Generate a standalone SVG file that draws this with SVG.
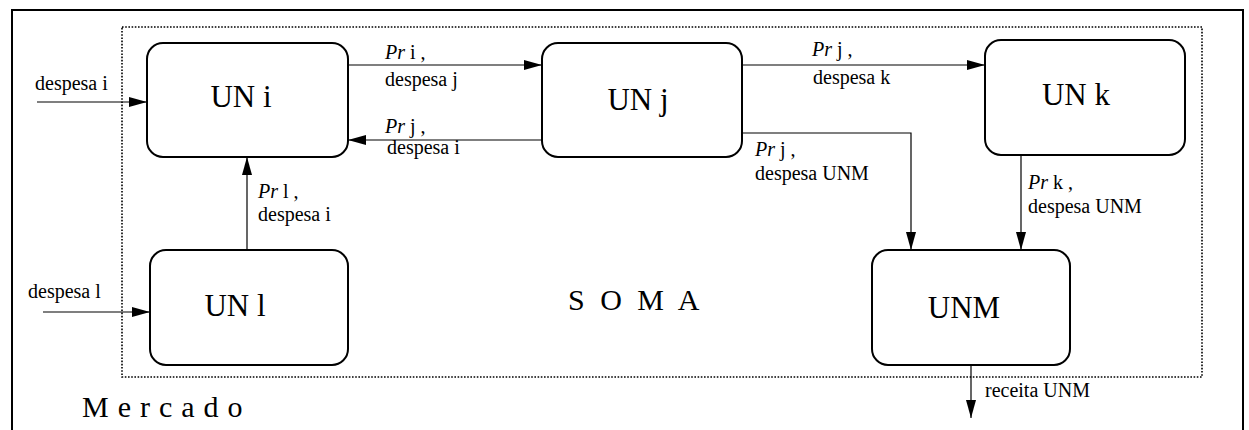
<svg xmlns="http://www.w3.org/2000/svg" width="1249" height="430" viewBox="0 0 1249 430">
  <style>
    .frame { fill: none; stroke: #000; stroke-width: 2; }
    .soma { fill: none; stroke: #000; stroke-width: 1.6; stroke-dasharray: 1.6 1.6; }
    .node { fill: #fff; stroke: #000; stroke-width: 2; }
    text { font-family: "Liberation Serif", "Times New Roman", serif; fill: #000; }
    .name { font-size: 31px; text-anchor: middle; }
    .lbl { font-size: 20px; }
    .it { font-style: italic; }
    .big { font-size: 30px; }
    .link { fill: none; stroke: #000; stroke-width: 1.2; marker-end: url(#arrow); }
  </style>
  <defs>
    <marker id="arrow" markerUnits="userSpaceOnUse" markerWidth="18" markerHeight="12" refX="18" refY="6" orient="auto">
      <path d="M0,1 L18,6 L0,11 Z" fill="#000"/>
    </marker>
  </defs>

  <rect width="1249" height="430" fill="#fff"/>

  <!-- market frame (open at the bottom edge) and the SOMA boundary -->
  <g id="mercado">
    <rect class="frame" x="12" y="10" width="1231" height="440"/>
    <text class="big" x="82" y="417" letter-spacing="9">Mercado</text>
  </g>
  <g id="soma">
    <rect class="soma" x="122" y="27" width="1080" height="350"/>
    <text class="big" x="568" y="310" letter-spacing="4">S O M A</text>
  </g>

  <!-- business units -->
  <g id="un-i">
    <rect class="node" x="147" y="43" width="201" height="114" rx="16"/>
    <text class="name" x="241" y="107">UN i</text>
  </g>
  <g id="un-j">
    <rect class="node" x="542" y="43" width="200" height="114" rx="16"/>
    <text class="name" x="638" y="110">UN j</text>
  </g>
  <g id="un-k">
    <rect class="node" x="985" y="40" width="200" height="115" rx="16"/>
    <text class="name" x="1076" y="105">UN k</text>
  </g>
  <g id="un-l">
    <rect class="node" x="150" y="250" width="198" height="115" rx="16"/>
    <text class="name" x="235" y="316">UN l</text>
  </g>
  <g id="unm">
    <rect class="node" x="872" y="250" width="198" height="115" rx="16"/>
    <text class="name" x="964" y="318">UNM</text>
  </g>

  <!-- flows between units -->
  <g id="connectors">
    <path class="link" d="M37,102 H147"/>
    <path class="link" d="M348,65 H542"/>
    <path class="link" d="M542,140 H348"/>
    <path class="link" d="M742,65 H985"/>
    <path class="link" d="M742,133 H911 V250"/>
    <path class="link" d="M1021,155 V250"/>
    <path class="link" d="M247,250 V157"/>
    <path class="link" d="M43,312 H150"/>
    <path class="link" d="M971,365 V418"/>

    <text class="lbl" x="35" y="90">despesa i</text>
    <text class="lbl" x="385" y="59"><tspan class="it">Pr</tspan> i ,</text>
    <text class="lbl" x="385" y="86">despesa j</text>
    <text class="lbl" x="385" y="133"><tspan class="it">Pr</tspan> j ,</text>
    <text class="lbl" x="387" y="154">despesa i</text>
    <text class="lbl" x="812" y="56"><tspan class="it">Pr</tspan> j ,</text>
    <text class="lbl" x="813" y="84">despesa k</text>
    <text class="lbl" x="755" y="156"><tspan class="it">Pr</tspan> j ,</text>
    <text class="lbl" x="755" y="180">despesa UNM</text>
    <text class="lbl" x="1028" y="189"><tspan class="it">Pr</tspan> k ,</text>
    <text class="lbl" x="1028" y="213">despesa UNM</text>
    <text class="lbl" x="258" y="198"><tspan class="it">Pr</tspan> l ,</text>
    <text class="lbl" x="258" y="221">despesa i</text>
    <text class="lbl" x="28" y="298">despesa l</text>
    <text class="lbl" x="985" y="397">receita UNM</text>
  </g>
</svg>
